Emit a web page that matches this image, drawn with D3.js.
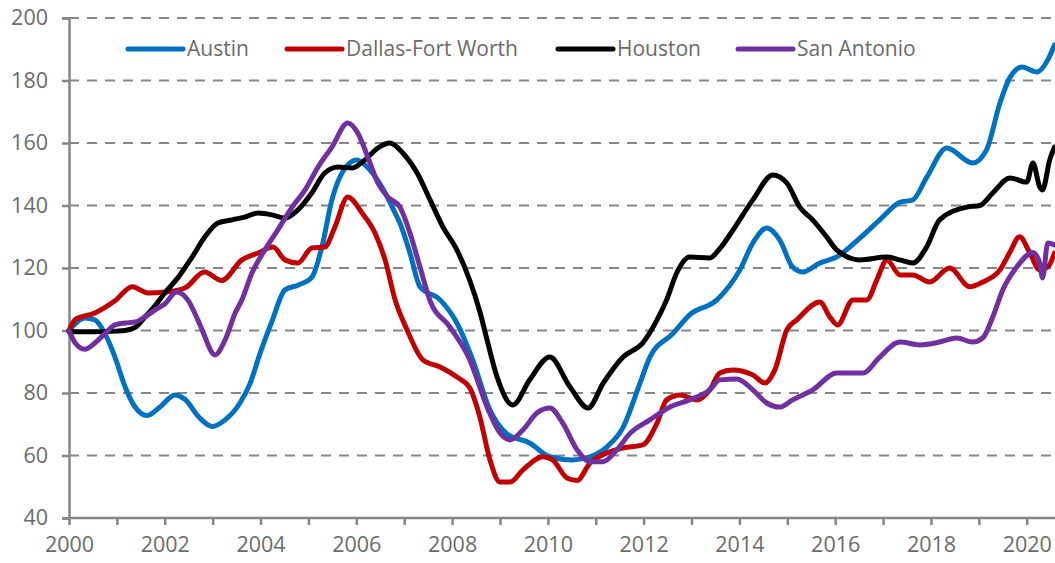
<!DOCTYPE html>
<html>
<head>
<meta charset="utf-8">
<script src="https://cdn.jsdelivr.net/npm/d3@7"></script>
<style>
  html, body { margin: 0; padding: 0; background: #fff; }
  svg { display: block; }
</style>
</head>
<body>
<div id="chart"></div>
<script>
// ---- data (index) ----
const seriesNames = ['Austin', 'Dallas-Fort Worth', 'Houston', 'San Antonio'];
const seriesColors = ['#0070C0', '#C00000', '#000000', '#7030A0'];

const austin = [
  [2000.00,100],[2000.33,104],[2000.54,103.4],[2000.75,99],[2000.96,91.5],[2001.17,82],[2001.38,75.5],
  [2001.63,72.8],[2001.90,75.5],[2002.21,79.4],[2002.42,78],[2002.73,72],[2002.99,69.3],[2003.26,71.4],
  [2003.57,76.8],[2003.78,83],[2003.99,92.7],[2004.24,103],[2004.51,113],[2004.78,114.5],[2005.07,117],
  [2005.28,126.7],[2005.49,141.8],[2005.82,153],[2006.01,154.6],[2006.18,153],[2006.53,146],[2006.81,137.6],
  [2006.91,134.4],[2007.12,124.8],[2007.33,114],[2007.75,109.8],[2008.10,102.4],[2008.43,90.6],[2008.79,74.6],
  [2009.14,67],[2009.62,64],[2010.04,59.6],[2010.52,58.6],[2010.88,59.6],[2011.23,62.7],[2011.57,69],
  [2011.92,83],[2012.13,91.5],[2012.61,99],[2012.96,105],[2013.53,109.8],[2014.01,119.4],[2014.28,128],
  [2014.57,132.8],[2014.84,129],[2015.11,120.3],[2015.32,118.7],[2015.68,121.6],[2016.03,123.5],[2016.51,129.5],
  [2016.93,135.4],[2017.35,141],[2017.62,141.8],[2017.91,149],[2018.33,158.4],[2018.87,153.6],[2019.16,157.8],
  [2019.44,172.8],[2019.65,181],[2019.90,184.3],[2020.21,182.7],[2020.44,186.6],[2020.58,191.4]
];

const dallas = [
  [2000.00,100],[2000.13,103.5],[2000.54,105.6],[2000.96,109.5],[2001.32,114],[2001.65,112],[2002.00,112.3],
  [2002.42,113.6],[2002.83,118.7],[2003.19,116],[2003.61,122.6],[2003.95,124.8],[2004.26,126.7],[2004.51,122.6],
  [2004.78,121.6],[2005.07,126.4],[2005.34,126.7],[2005.55,133],[2005.82,142.7],[2006.12,137.6],[2006.39,131.2],
  [2006.60,122.6],[2006.81,109.8],[2007.06,100.2],[2007.39,90.6],[2007.75,88.3],[2008.10,85.1],[2008.37,81.6],
  [2008.58,72.3],[2008.79,58.6],[2009.00,51.5],[2009.21,51.5],[2009.48,55.4],[2009.90,59.6],[2010.10,58.6],
  [2010.40,52.8],[2010.61,52],[2010.88,57.6],[2011.23,60.8],[2011.57,62.4],[2011.98,63.4],[2012.28,70.4],
  [2012.48,77.8],[2012.76,79.4],[2013.11,77.8],[2013.38,81],[2013.59,86.4],[2013.86,87.4],[2014.28,85.8],
  [2014.53,83.2],[2014.74,87.4],[2014.99,100.2],[2015.20,103.4],[2015.68,109.1],[2015.89,104.3],[2016.05,101.8],
  [2016.37,109.8],[2016.66,109.8],[2016.87,116.2],[2017.08,122.6],[2017.35,117.8],[2017.62,117.8],[2017.97,115.5],
  [2018.39,120],[2018.81,114],[2019.08,115.5],[2019.44,119.4],[2019.65,125.1],[2019.85,130],[2020.06,125],
  [2020.27,119.4],[2020.44,120.3],[2020.58,124.8]
];

const houston = [
  [2000.00,99.6],[2000.50,99.6],[2001.00,99.8],[2001.17,100],[2001.38,101],[2001.59,104.4],[2001.80,108],
  [2002.00,112],[2002.28,117],[2002.57,123.5],[2002.84,130],[2003.11,134.4],[2003.40,135.4],[2003.67,136.3],
  [2003.95,137.6],[2004.24,137],[2004.51,136],[2004.78,138.6],[2005.07,144],[2005.34,150.4],[2005.62,152.3],
  [2005.91,152],[2006.18,154.6],[2006.45,158.4],[2006.70,160],[2006.97,156.8],[2007.27,150.4],[2007.54,141.8],
  [2007.81,133.1],[2008.10,125.8],[2008.37,116],[2008.58,106],[2008.73,97],[2008.94,85.1],[2009.27,76.2],
  [2009.62,84.2],[2010.04,91.5],[2010.46,82],[2010.84,75.2],[2011.15,83],[2011.57,91.5],[2011.98,96],
  [2012.28,103.4],[2012.48,109.8],[2012.69,118.4],[2012.96,123.5],[2013.38,123.2],[2013.59,126.2],[2013.86,132],
  [2014.28,141.8],[2014.70,149.8],[2014.99,147.2],[2015.26,139.5],[2015.53,135.4],[2015.82,130],[2016.03,125.8],
  [2016.51,122.6],[2017.08,123.5],[2017.35,122.6],[2017.62,121.6],[2017.91,126.7],[2018.18,135.4],[2018.75,139.5],
  [2019.02,140],[2019.29,144],[2019.65,148.8],[2020.00,147.5],[2020.13,153.6],[2020.27,146],[2020.33,145],
  [2020.48,154.6],[2020.58,158.7]
];

const sanAntonio = [
  [2000.00,100],[2000.13,96],[2000.33,94],[2000.54,96],[2000.75,99],[2000.96,101.8],[2001.17,102.4],
  [2001.38,102.7],[2001.59,104.4],[2001.80,106.6],[2002.00,108.5],[2002.25,112.3],[2002.48,109.8],[2002.69,103.4],
  [2002.78,100.2],[2003.05,92.2],[2003.26,97],[2003.47,105.6],[2003.61,109.8],[2003.82,118.4],[2004.09,125.8],
  [2004.36,132.2],[2004.66,139.5],[2004.93,145],[2005.20,152.3],[2005.49,158.7],[2005.82,166.4],[2006.03,163.2],
  [2006.24,155.5],[2006.45,147.2],[2006.66,142.7],[2006.91,139.5],[2007.12,131.2],[2007.33,120.3],[2007.54,109.5],
  [2007.95,101.2],[2008.37,90.6],[2008.73,75.5],[2009.00,67.2],[2009.21,65],[2009.48,68.2],[2009.77,73.6],
  [2010.04,75.2],[2010.31,70.4],[2010.61,61.8],[2010.88,58],[2011.15,58],[2011.44,61.8],[2011.71,67],
  [2012.13,71.4],[2012.55,75.5],[2012.96,77.8],[2013.38,81],[2013.59,84.2],[2013.95,84.5],[2014.28,81],
  [2014.57,76.8],[2014.84,75.5],[2015.11,77.8],[2015.53,81],[2016.03,86.4],[2016.58,86.4],[2016.93,91.5],
  [2017.35,96.3],[2017.77,95.4],[2018.18,96.3],[2018.54,97.6],[2018.87,96.3],[2019.08,97.6],[2019.29,104.3],
  [2019.50,113],[2019.79,120.3],[2020.13,125],[2020.27,121.6],[2020.33,116.8],[2020.44,128],[2020.58,127.4]
];

const seriesData = [austin, dallas, houston, sanAntonio];
const yTicks = [40, 60, 80, 100, 120, 140, 160, 180, 200];
const xLabelYears = [2000, 2002, 2004, 2006, 2008, 2010, 2012, 2014, 2016, 2018, 2020];

// ---- layout ----
const width = 1055;
const height = 563;
const margin = { top: 18, right: 0, bottom: 45, left: 69 };
const axisColor = '#868686';
const textColor = '#6b6b6b';
const font = '"Open Sans", "Liberation Sans", sans-serif';

const svg = d3.select('#chart')
    .append('svg')
    .attr('width', width)
    .attr('height', height);

const x = d3.scaleLinear()
    .domain([2000, 2020.59])
    .range([margin.left, width - margin.right]);

const y = d3.scaleLinear()
    .domain([40, 200])
    .range([height - margin.bottom, margin.top]);

// dashed gridlines
svg.append('g')
    .selectAll('line')
    .data(yTicks.filter(t => t > 40))
    .enter().append('line')
    .attr('x1', margin.left)
    .attr('x2', width)
    .attr('y1', d => y(d))
    .attr('y2', d => y(d))
    .attr('stroke', axisColor)
    .attr('stroke-width', 2)
    .attr('stroke-dasharray', '10,8');

// y axis
const yAxis = svg.append('g')
    .attr('transform', `translate(${margin.left},0)`)
    .call(d3.axisLeft(y).tickValues(yTicks).tickSize(7).tickPadding(14));

// x axis: a tick every year, labels every two
const xAxis = svg.append('g')
    .attr('transform', `translate(0,${y(40)})`)
    .call(d3.axisBottom(x)
        .tickValues(d3.range(2000, 2021))
        .tickSize(7)
        .tickPadding(12)
        .tickFormat(d => xLabelYears.includes(d) ? String(d) : ''));

[yAxis, xAxis].forEach(ax => {
    ax.select('.domain').attr('stroke', axisColor).attr('stroke-width', 2.5);
    ax.selectAll('.tick line').attr('stroke', axisColor).attr('stroke-width', 2.5);
    ax.selectAll('.tick text')
        .attr('fill', textColor)
        .style('font-family', font)
        .style('font-size', '21.5px');
});
xAxis.select('.domain').attr('d', `M${margin.left},0H${width}`);

// lines
const line = d3.line()
    .x(d => x(d[0]))
    .y(d => y(d[1]))
    .curve(d3.curveMonotoneX);

svg.append('g')
    .selectAll('path')
    .data(seriesData)
    .enter().append('path')
    .attr('d', line)
    .attr('fill', 'none')
    .attr('stroke', (d, i) => seriesColors[i])
    .attr('stroke-width', 5)
    .attr('stroke-linejoin', 'round')
    .attr('stroke-linecap', 'round');

// legend
const legendX = [128, 287, 558, 738];
const legendY = 49;
const legend = svg.append('g')
    .selectAll('g')
    .data(seriesNames)
    .enter().append('g')
    .attr('transform', (d, i) => `translate(${legendX[i]},${legendY})`);

legend.append('line')
    .attr('x1', 0)
    .attr('x2', 55)
    .attr('stroke', (d, i) => seriesColors[i])
    .attr('stroke-width', 5)
    .attr('stroke-linecap', 'round');

legend.append('text')
    .attr('x', 59)
    .attr('dy', '0.35em')
    .attr('fill', textColor)
    .style('font-family', font)
    .style('font-size', '21px')
    .text(d => d);
</script>
</body>
</html>
